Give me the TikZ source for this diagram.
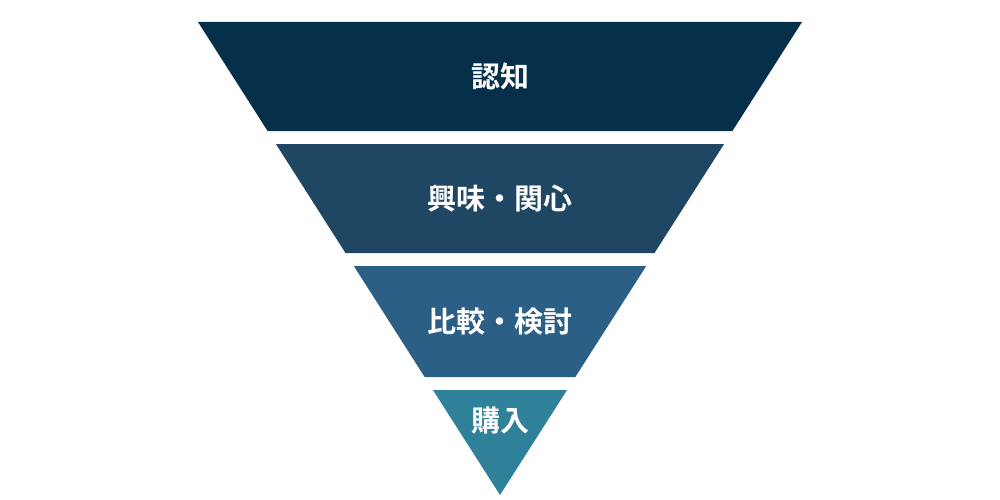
\documentclass[tikz,border=0pt]{standalone}
\usepackage{fontspec}
\newfontfamily\cjk{Noto Sans CJK JP Bold}
\definecolor{c1}{HTML}{06304A}
\definecolor{c2}{HTML}{1F4662}
\definecolor{c3}{HTML}{2B5F86}
\definecolor{c4}{HTML}{2E8199}
\begin{document}
\begin{tikzpicture}[x=1pt,y=-1pt,
 lbl/.style={text=white,font=\cjk\fontsize{29}{34}\selectfont}]
\useasboundingbox (0,0) rectangle (1000,500);
\pgfmathsetmacro{\s}{302/473}
\def\layer#1#2#3#4#5{%
 \fill[#3] ({198+\s*(#1-22)},#1) -- ({802-\s*(#1-22)},#1) -- ({802-\s*(#2-22)},#2) -- ({198+\s*(#2-22)},#2) -- cycle;
 \node[lbl] (#5) at (500,{(#1+#2)/2}) {#4};}
\layer{22}{131}{c1}{認知}{n1}
\layer{144}{253}{c2}{興味・関心}{n2}
\layer{266}{377}{c3}{比較・検討}{n3}
\fill[c4] ({198+\s*368},390) -- ({802-\s*368},390) -- (500,495) -- cycle;
\node[lbl] (n4) at (500,421) {購入};
\end{tikzpicture}
\end{document}
